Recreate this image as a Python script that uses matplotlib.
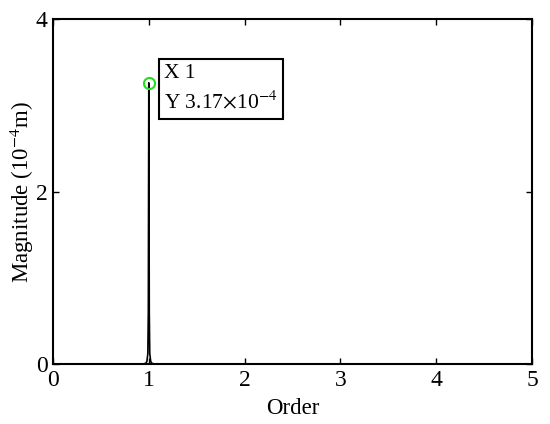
import matplotlib
matplotlib.use("Agg")
import matplotlib.pyplot as plt
import numpy as np

plt.rcParams['font.family'] = ['Liberation Serif', 'DejaVu Serif']
plt.rcParams['mathtext.fontset'] = 'stix'

# Data (magnitude in 1e-4 m)
order = [0.0, 0.5, 0.9, 0.95, 0.97, 0.98, 0.99, 0.995, 1.0, 1.005, 1.01, 1.02, 1.03, 1.05, 1.1, 2.0, 3.0, 4.0, 5.0]
magnitude = [0.0, 0.0, 0.0, 0.002, 0.01, 0.03, 0.12, 0.6, 3.26, 0.6, 0.12, 0.03, 0.01, 0.002, 0.0, 0.0, 0.0, 0.0, 0.0]
tip_x = 1
tip_y = 3.26
tip_label = "X 1\nY 3.17$\\times$10$^{-4}$"
xticks = [0, 1, 2, 3, 4, 5]
yticks = [0, 2, 4]

fig = plt.figure(figsize=(5.5, 4.24), dpi=100)
ax = fig.add_axes([53/550, 1-364/424, (532-53)/550, (364-19)/424])
ax.plot(order, magnitude, color='black', lw=1.2)
ax.plot([tip_x], [tip_y], marker='o', ms=8, mfc='none', mec='#22dd22', mew=1.5)
ax.set_xlim(0, 5)
ax.set_ylim(0, 4)
ax.set_xticks(xticks)
ax.set_yticks(yticks)
ax.tick_params(direction='in', top=True, right=True, labelsize=17, length=4, width=1, pad=4)
for s in ax.spines.values():
    s.set_linewidth(1.5)
ax.set_xlabel('Order', fontsize=16.5, labelpad=5)
ax.set_ylabel('Magnitude (10$^{-4}$m)', fontsize=16.5, labelpad=0)
ax.text(1.16, 3.19, tip_label, fontsize=15.5, va='center', ha='left', linespacing=1.45,
        bbox=dict(boxstyle='square,pad=0.25', fc='white', ec='black', lw=1.5))
fig.savefig('out.png', dpi=100)
